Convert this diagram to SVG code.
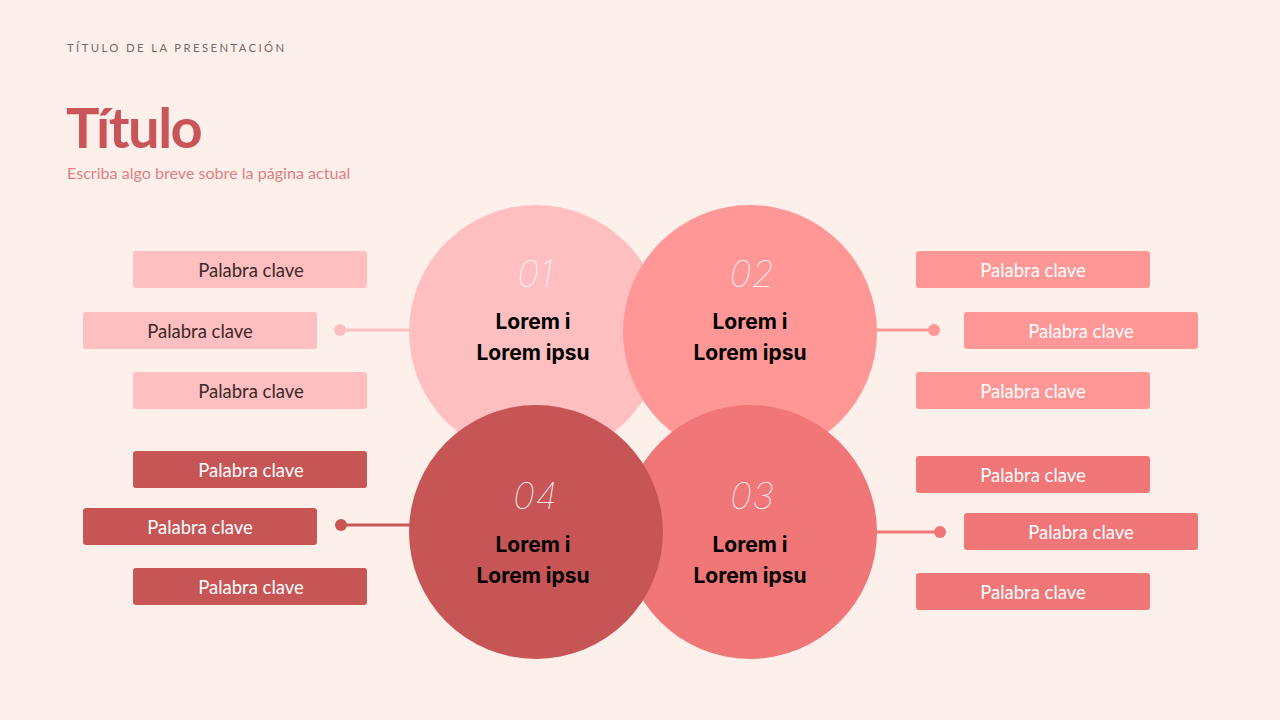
<svg xmlns="http://www.w3.org/2000/svg" width="1280" height="720" viewBox="0 0 1280 720">
<style>
.kw{font-family:"Lato","Noto Sans","Liberation Sans",sans-serif;font-size:18.5px;text-anchor:middle;dominant-baseline:central}
.num{font-family:"Inter","Liberation Sans",sans-serif;font-weight:100;font-style:italic;font-size:37px;fill:#ffffff;text-anchor:middle}
.lbl{font-family:"Inter","Liberation Sans",sans-serif;font-weight:700;font-size:21px;fill:#000000;text-anchor:middle}
.c1{fill:#FFBFC0}.c2{fill:#FF9797}.c3{fill:#F07677}.c4{fill:#C85556}
.s1{stroke:#FFBFC0}.s2{stroke:#FF9797}.s3{stroke:#F07677}.s4{stroke:#C85556}
.ln{stroke-width:3;fill:none}
.dark{fill:#3B2A2A}.light{fill:#ffffff}
</style>
<rect width="1280" height="720" fill="#FDF0EA"/>
<g id="header">
<text x="67" y="52" font-family="Lato,'Noto Sans',sans-serif" font-size="11.3" letter-spacing="2.4" fill="#7A6868">TÍTULO DE LA PRESENTACIÓN</text>
<text x="66" y="148" font-family="Lato,'Noto Sans',sans-serif" font-weight="700" font-size="56" letter-spacing="-1.5" fill="#C9545A">Título</text>
<text x="67" y="179" font-family="Lato,'Noto Sans',sans-serif" font-size="16.1" fill="#E07F82">Escriba algo breve sobre la página actual</text>
</g>
<g id="connectors">
<line class="ln s1" x1="340" y1="330" x2="412" y2="330"/>
<circle class="c1" cx="340" cy="330" r="6"/>
<line class="ln s2" x1="874" y1="330" x2="934" y2="330"/>
<circle class="c2" cx="934" cy="330" r="6"/>
<line class="ln s4" x1="341" y1="525" x2="412" y2="525"/>
<circle class="c4" cx="341" cy="525" r="6"/>
<line class="ln s3" x1="874" y1="532" x2="940" y2="532"/>
<circle class="c3" cx="940" cy="532" r="6"/>
</g>
<g id="node01">
<circle class="c1" cx="536" cy="332" r="127"/>
</g>
<g id="node02">
<circle class="c2" cx="750" cy="332" r="127"/>
</g>
<g id="node03">
<circle class="c3" cx="750" cy="532" r="127"/>
</g>
<g id="node04">
<circle class="c4" cx="536" cy="532" r="127"/>
</g>
<g id="labels">
<text class="num" x="535" y="287">01</text>
<text class="lbl" x="533" y="329">Lorem i</text>
<text class="lbl" x="533" y="360">Lorem ipsu</text>
<text class="num" x="752" y="287">02</text>
<text class="lbl" x="750" y="329">Lorem i</text>
<text class="lbl" x="750" y="360">Lorem ipsu</text>
<text class="num" x="535" y="509">04</text>
<text class="lbl" x="533" y="552">Lorem i</text>
<text class="lbl" x="533" y="583">Lorem ipsu</text>
<text class="num" x="752" y="509">03</text>
<text class="lbl" x="750" y="552">Lorem i</text>
<text class="lbl" x="750" y="583">Lorem ipsu</text>
</g>
<g id="keywords-tl">
<rect class="c1" x="133" y="251" width="234" height="37" rx="3"/>
<text class="kw dark" x="251" y="269.5">Palabra clave</text>
<rect class="c1" x="83" y="312" width="234" height="37" rx="3"/>
<text class="kw dark" x="200" y="330.5">Palabra clave</text>
<rect class="c1" x="133" y="372" width="234" height="37" rx="3"/>
<text class="kw dark" x="251" y="390.5">Palabra clave</text>
</g>
<g id="keywords-tr">
<rect class="c2" x="916" y="251" width="234" height="37" rx="3"/>
<text class="kw light" x="1033" y="269.5">Palabra clave</text>
<rect class="c2" x="964" y="312" width="234" height="37" rx="3"/>
<text class="kw light" x="1081" y="330.5">Palabra clave</text>
<rect class="c2" x="916" y="372" width="234" height="37" rx="3"/>
<text class="kw light" x="1033" y="390.5">Palabra clave</text>
</g>
<g id="keywords-bl">
<rect class="c4" x="133" y="451" width="234" height="37" rx="3"/>
<text class="kw light" x="251" y="469.5">Palabra clave</text>
<rect class="c4" x="83" y="508" width="234" height="37" rx="3"/>
<text class="kw light" x="200" y="526.5">Palabra clave</text>
<rect class="c4" x="133" y="568" width="234" height="37" rx="3"/>
<text class="kw light" x="251" y="586.5">Palabra clave</text>
</g>
<g id="keywords-br">
<rect class="c3" x="916" y="456" width="234" height="37" rx="3"/>
<text class="kw light" x="1033" y="474.5">Palabra clave</text>
<rect class="c3" x="964" y="513" width="234" height="37" rx="3"/>
<text class="kw light" x="1081" y="531.5">Palabra clave</text>
<rect class="c3" x="916" y="573" width="234" height="37" rx="3"/>
<text class="kw light" x="1033" y="591.5">Palabra clave</text>
</g>
</svg>
